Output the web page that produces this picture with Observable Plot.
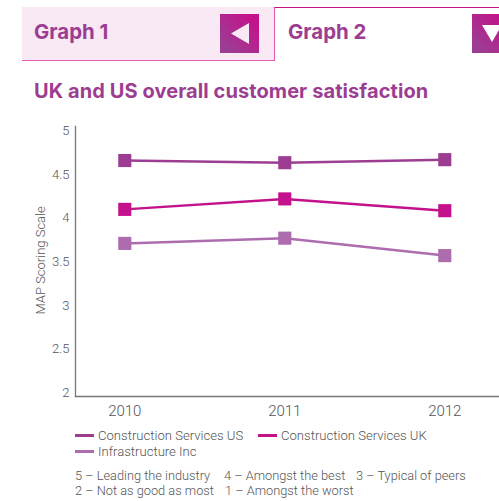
<!DOCTYPE html>
<html>
<head>
<meta charset="utf-8">
<script src="https://cdn.jsdelivr.net/npm/d3@7"></script>
<script src="https://cdn.jsdelivr.net/npm/@observablehq/plot@0.6"></script>
<style>
  html, body { margin: 0; padding: 0; background: #fff; }
  #page { position: relative; width: 499px; height: 501px; overflow: hidden; font-family: Roboto, sans-serif; }
  .abs { position: absolute; white-space: nowrap; }
  .tab-label { font: 700 20.4px Inter, sans-serif; color: #9c3d92; line-height: 24px; top: 20px; }
  .btn { position: absolute; top: 14px; width: 39px; height: 39px; background: linear-gradient(45deg, #9c3d92 15%, #c4128c 85%); }
  .legend { font: 300 13.1px Roboto, sans-serif; color: #555; line-height: 16px; }
  .key { font: 300 12.8px Roboto, sans-serif; color: #555; line-height: 16px; }
  .swatch { position: absolute; width: 19px; height: 3px; }
  #chart { position: absolute; left: 0; top: 110px; }
  #chart svg { display: block; }
</style>
</head>
<body>
<div id="page">
  <div class="abs" style="left:22px;top:7px;width:252px;height:53px;background:#f8e9f4"></div>
  <div class="abs" style="left:22px;top:59.5px;width:253px;height:1.5px;background:#e45bb0"></div>
  <div class="abs" style="left:274px;top:7px;width:225px;height:53px;background:#fff;border-left:1.5px solid #e45bb0;border-top:1.5px solid #c4128c;box-sizing:border-box"></div>
  <div class="abs tab-label" style="left:34px">Graph 1</div>
  <div class="abs tab-label" style="left:288px">Graph 2</div>
  <div class="btn" style="left:220px"><svg width="39" height="39"><polygon points="11,19.5 29,9 29,30" fill="#f8e9f4"/></svg></div>
  <div class="btn" style="left:472px"><svg width="39" height="39"><polygon points="10,11 30,11 20,28" fill="#fff"/></svg></div>
  <div class="abs" style="left:34px;top:78px;font:700 20px/26px Inter,sans-serif;letter-spacing:0.08px;color:#9c3d92">UK and US overall customer satisfaction</div>
  <div id="chart"></div>
  <div id="legend"></div>
  <div id="key"></div>
</div>
<script>
// Survey years and MAP scores per organisation
const years = [2010, 2011, 2012];
const seriesNames = ["Construction Services US", "Construction Services UK", "Infrastructure Inc"];
const usScores = [4.66, 4.635, 4.67];
const ukScores = [4.10, 4.22, 4.085];
const infraScores = [3.71, 3.77, 3.57];
const seriesColors = ["#9c3d92", "#c4128c", "#ac6cae"];
const yTicks = [2, 2.5, 3, 3.5, 4, 4.5, 5];
const keyEntries = [
  "5 – Leading the industry", "4 – Amongst the best", "3 – Typical of peers",
  "2 – Not as good as most", "1 – Amongst the worst"
];

const rows = [usScores, ukScores, infraScores].flatMap((scores, i) =>
  scores.map((score, j) => ({year: years[j], score, series: seriesNames[i]}))
);

const textFont = {fontWeight: 300, fontFamily: "Roboto, sans-serif"};

const chart = Plot.plot({
  width: 499,
  height: 300,
  marginLeft: 75,
  marginRight: 0,
  marginTop: 16,
  marginBottom: 14,
  style: {background: "transparent", overflow: "visible"},
  x: {domain: [2009.692, 2012.342], label: null},
  y: {domain: [1.955, 5.05], label: null},
  color: {domain: seriesNames, range: seriesColors},
  marks: [
    Plot.axisX({ticks: years, tickFormat: "d", tickSize: 0, tickPadding: 9, fontSize: 15, color: "#555", label: null, ...textFont}),
    Plot.axisY({ticks: yTicks, tickFormat: d => String(d), tickSize: 0, tickPadding: 6, fontSize: 13, color: "#555", label: null, ...textFont}),
    Plot.text(["MAP Scoring Scale"], {frameAnchor: "left", dx: -35, dy: 53, rotate: -90, fontSize: 13, fill: "#555", ...textFont}),
    Plot.frame({anchor: "left", stroke: "#777", strokeWidth: 1.3}),
    Plot.frame({anchor: "bottom", stroke: "#777", strokeWidth: 1.3}),
    Plot.line(rows, {x: "year", y: "score", stroke: "series", strokeWidth: 2.5}),
    Plot.dot(rows, {x: "year", y: "score", fill: "series", symbol: "square", r: 7.4, stroke: "none"})
  ]
});
document.getElementById("chart").append(chart);

// Legend entries in two rows underneath the plot
const legendSlots = [[75, 428], [258, 428], [75, 444]];
const legend = document.getElementById("legend");
seriesNames.forEach((name, i) => {
  const [lx, ly] = legendSlots[i];
  const swatch = document.createElement("div");
  swatch.className = "swatch";
  swatch.style.cssText = `left:${lx}px;top:${ly + 6}px;background:${seriesColors[i]}`;
  const label = document.createElement("div");
  label.className = "abs legend";
  label.style.cssText = `left:${lx + 23}px;top:${ly}px`;
  label.textContent = name;
  legend.append(swatch, label);
});

// Explanation of the five scoring levels
const keySlots = [[75, 468], [224, 468], [356, 468], [75, 483], [225, 483]];
const keyBox = document.getElementById("key");
keyEntries.forEach((text, i) => {
  const el = document.createElement("div");
  el.className = "abs key";
  el.style.cssText = `left:${keySlots[i][0]}px;top:${keySlots[i][1]}px`;
  el.textContent = text;
  keyBox.append(el);
});
</script>
</body>
</html>
